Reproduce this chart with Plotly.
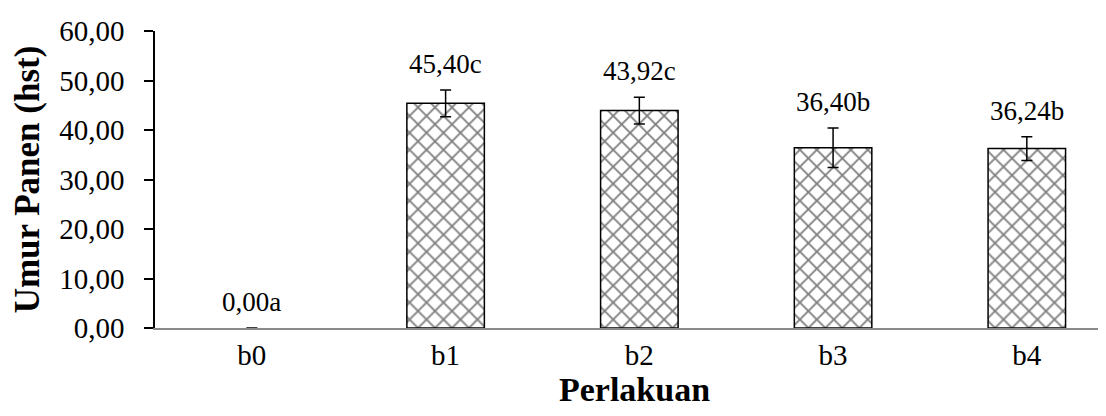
import plotly.graph_objects as go

categories = ["b0", "b1", "b2", "b3", "b4"]
values = [0.00, 45.40, 43.92, 36.40, 36.24]
errors = [None, 2.7, 2.7, 4.0, 2.4]
labels = ["0,00a", "45,40c", "43,92c", "36,40b", "36,24b"]
y_ticks = [0, 10, 20, 30, 40, 50, 60]
y_tick_text = ["0,00", "10,00", "20,00", "30,00", "40,00", "50,00", "60,00"]

FONT = "Liberation Serif, Times New Roman, serif"

fig = go.Figure()
fig.add_trace(go.Bar(
    x=categories, y=values, width=0.40,
    marker=dict(color="white",
                opacity=[0 if v == 0 else 1 for v in values],
                line=dict(color="black", width=[0 if v == 0 else 1.5 for v in values]),
                pattern=dict(shape="x", fgcolor="black", bgcolor="white",
                             size=12, solidity=0.28)),
    error_y=dict(type="data", array=errors, visible=True, color="black",
                 thickness=1.5, width=5.5),
    showlegend=False,
))

for c, v, e, t in zip(categories, values, errors, labels):
    fig.add_annotation(x=c, y=v + (e or 0), text=t, showarrow=False,
                       yanchor="bottom", yshift=9,
                       font=dict(family=FONT, size=27, color="black"))

fig.update_layout(
    width=1106, height=416,
    margin=dict(l=147, r=0, t=23, b=96),
    paper_bgcolor="white", plot_bgcolor="white",
    font=dict(family=FONT, color="black"),
)
fig.update_xaxes(
    range=[-0.5, 4.45], showline=True, linecolor="#898989", linewidth=2,
    ticks="", tickfont=dict(family=FONT, size=29, color="black"),
    title=dict(text="<b>Perlakuan</b>", font=dict(family=FONT, size=34, color="black"),
               standoff=4),
    showgrid=False, zeroline=False,
)
fig.update_yaxes(
    range=[0, 60], tickvals=y_ticks, ticktext=y_tick_text,
    showline=True, linecolor="black", linewidth=1.5,
    ticks="outside", ticklen=9, tickcolor="black", tickwidth=1.5,
    ticklabelstandoff=14,
    tickfont=dict(family=FONT, size=29, color="black"),
    title=dict(text="<b>Umur Panen (hst)</b>", font=dict(family=FONT, size=35, color="black"),
               standoff=11),
    showgrid=False, zeroline=False,
)

fig.write_html("out.html")
